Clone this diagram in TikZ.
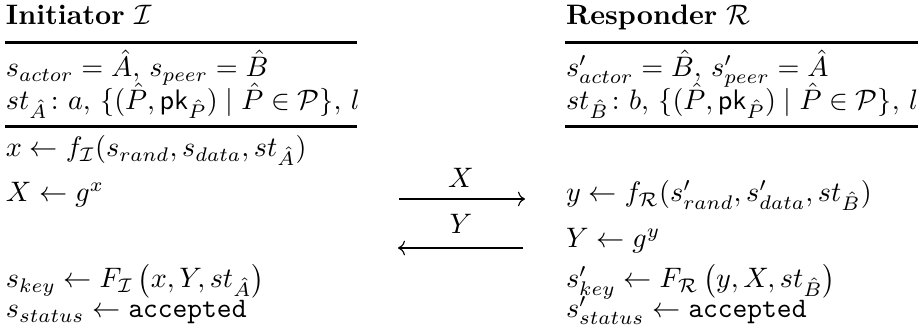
\documentclass[tikz,border=0pt]{standalone}
\usepackage{amsmath}
\usetikzlibrary{arrows.meta}
\begin{document}
\begin{tikzpicture}[x=0.355pt,y=-0.355pt,
  txt/.style={anchor=base west, inner sep=0pt, outer sep=0pt},
  lbl/.style={anchor=center, inner sep=0pt, outer sep=0pt},
  rulel/.style={line width=0.95pt},
  msg/.style={line width=0.4pt, -{Computer Modern Rightarrow}}]
\useasboundingbox (0,0) rectangle (918,331);
% titles
\node[txt] (ti) at (6,25) {\textbf{Initiator} $\mathcal{I}$};
\node[txt] (tr) at (566,25) {\textbf{Responder} $\mathcal{R}$};
% rules
\coordinate (r1a) at (5,42.5);  \coordinate (r1b) at (357,42.5);
\coordinate (r1c) at (565,42.5); \coordinate (r1d) at (918,42.5);
\coordinate (r2a) at (5,126.5);  \coordinate (r2b) at (357,126.5);
\coordinate (r2c) at (565,126.5); \coordinate (r2d) at (918,126.5);
\draw[rulel] (r1a) -- (r1b);
\draw[rulel] (r1c) -- (r1d);
\draw[rulel] (r2a) -- (r2b);
\draw[rulel] (r2c) -- (r2d);
% state
\node[txt] (la1) at (6,77) {$s_{actor} = \hat{A},\, s_{peer} = \hat{B}$};
\node[txt] (la2) at (6,110) {$st_{\hat{A}}\colon a,\, \{(\hat{P}, \mathsf{pk}_{\hat{P}}) \mid \hat{P} \in \mathcal{P}\},\, l$};
\node[txt] (ra1) at (566,77) {$s'_{actor} = \hat{B},\, s'_{peer} = \hat{A}$};
\node[txt] (ra2) at (566,110) {$st_{\hat{B}}\colon b,\, \{(\hat{P}, \mathsf{pk}_{\hat{P}}) \mid \hat{P} \in \mathcal{P}\},\, l$};
% protocol
\node[txt] (l1) at (6,157) {$x \leftarrow f_{\mathcal{I}}(s_{rand}, s_{data}, st_{\hat{A}})$};
\node[txt] (l2) at (6,202) {$X \leftarrow g^{x}$};
\node[txt] (r1) at (566,202) {$y \leftarrow f_{\mathcal{R}}(s'_{rand}, s'_{data}, st_{\hat{B}})$};
\node[txt] (r2) at (566,248) {$Y \leftarrow g^{y}$};
\node[txt] (l3) at (6,288) {$s_{key} \leftarrow F_{\mathcal{I}}\left(x, Y, st_{\hat{A}}\right)$};
\node[txt] (l4) at (6,318) {$s_{status} \leftarrow \mathtt{accepted}$};
\node[txt] (r3) at (566,288) {$s'_{key} \leftarrow F_{\mathcal{R}}\left(y, X, st_{\hat{B}}\right)$};
\node[txt] (r4) at (566,318) {$s'_{status} \leftarrow \mathtt{accepted}$};
% messages
\coordinate (mxa) at (399,199); \coordinate (mxb) at (525,199);
\coordinate (mya) at (523,248); \coordinate (myb) at (398,248);
\draw[msg] (mxa) -- (mxb);
\draw[msg] (mya) -- (myb);
\node[lbl] (mx) at (461,178) {$X$};
\node[lbl] (my) at (461,224) {$Y$};
\end{tikzpicture}
\end{document}
